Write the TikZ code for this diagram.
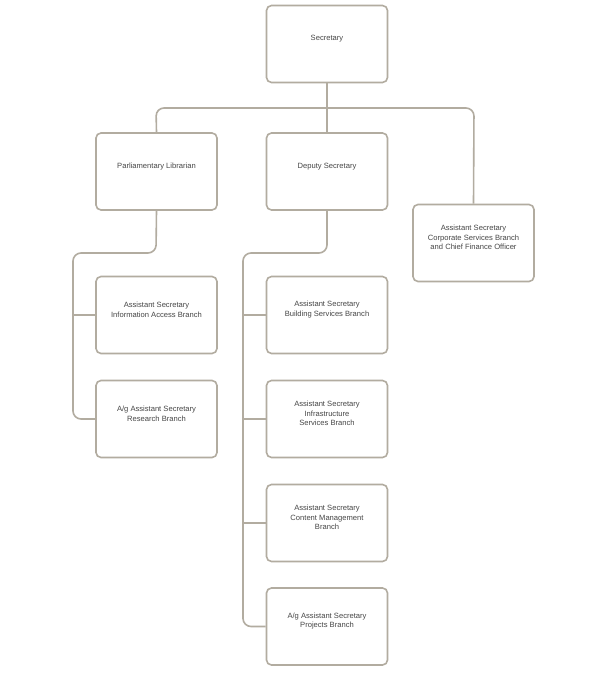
\documentclass[tikz,border=0pt]{standalone}
\usepackage{fontspec}
\setmainfont{Liberation Sans}
\begin{document}
\begin{tikzpicture}[x=1pt,y=-1pt,
  box/.style={draw=lineC,line width=1.6pt,rounded corners=5pt,fill=white,minimum width=121pt,minimum height=77pt,inner sep=0pt},
  txt/.style={font=\fontsize{7.6}{9.5}\selectfont,text=textC,align=center},
  conn/.style={draw=lineC,line width=1.6pt,rounded corners=8pt}]
\definecolor{lineC}{RGB}{178,172,160}
\definecolor{textC}{RGB}{70,70,70}
\useasboundingbox[fill=white] (0,0) rectangle (601,685);
\newcommand{\bx}[4]{\node[box] (#1) at (#2,#3) {}; \node[txt] (#1t) at ([yshift=-34pt]#1.north) {#4};}
\coordinate (busL) at (156,108);
\coordinate (busR) at (474,108);
\coordinate (pl1) at (156,253);
\coordinate (pl2) at (73,253);
\coordinate (dp1) at (327,253);
\coordinate (dp2) at (243,253);
% connectors first
\bx{sec}{327}{44}{Secretary}
\bx{parl}{156.5}{171.5}{Parliamentary Librarian}
\bx{dep}{327}{171.5}{Deputy Secretary}
\bx{corp}{473.5}{243}{Assistant Secretary\\Corporate Services Branch\\and Chief Finance Officer}
\bx{info}{156.5}{315}{Assistant Secretary\\Information Access Branch}
\bx{res}{156.5}{419}{A/g Assistant Secretary\\Research Branch}
\bx{bld}{327}{315}{Assistant Secretary\\Building Services Branch}
\bx{inf}{327}{419}{Assistant Secretary\\Infrastructure\\Services Branch}
\bx{cont}{327}{523}{Assistant Secretary\\Content Management\\Branch}
\bx{proj}{327}{626.5}{A/g Assistant Secretary\\Projects Branch}
\begin{scope}[on background layer/.try]
\end{scope}
\draw[conn] (parl.north) -- (busL) -- (busR) -- (corp.north);
\draw[conn] (sec.south) -- (dep.north);
\draw[conn] (parl.south) -- (pl1) -- (pl2) -- (pl2 |- res.west) -- (res.west);
\draw[conn,rounded corners=0pt] (pl2 |- info.west) -- (info.west);
\draw[conn] (dep.south) -- (dp1) -- (dp2) -- (dp2 |- proj.west) -- (proj.west);
\draw[conn,rounded corners=0pt] (dp2 |- bld.west) -- (bld.west);
\draw[conn,rounded corners=0pt] (dp2 |- inf.west) -- (inf.west);
\draw[conn,rounded corners=0pt] (dp2 |- cont.west) -- (cont.west);
\end{tikzpicture}
\end{document}
